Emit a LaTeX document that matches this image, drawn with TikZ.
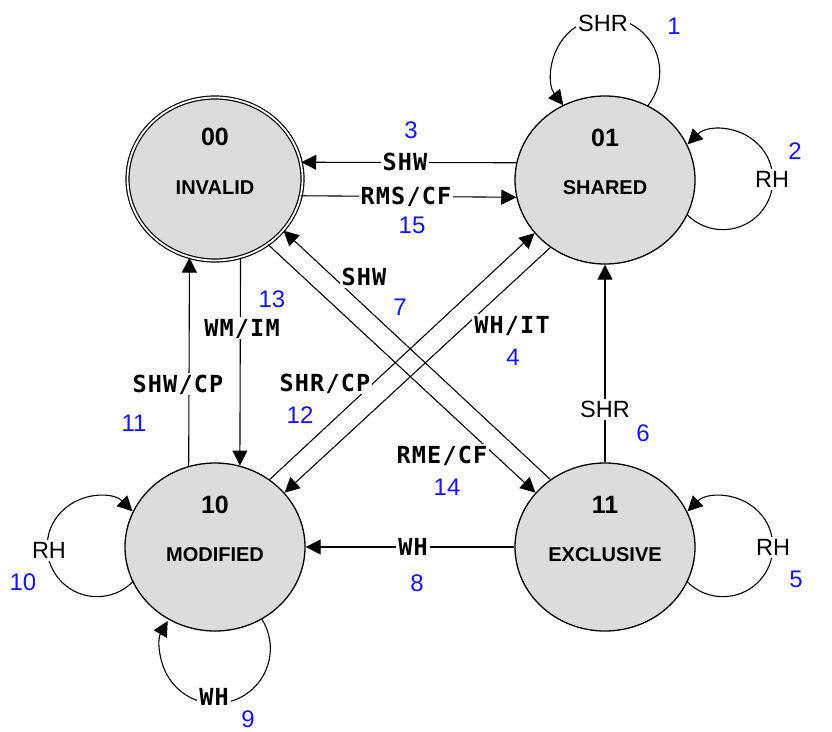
\documentclass[tikz,border=0pt]{standalone}
\usepackage{fontspec}
\setmainfont{Liberation Sans}
\newfontfamily\lblmono{DejaVu Sans Mono}[LetterSpace=5]
\usetikzlibrary{arrows.meta,shapes.geometric}
\definecolor{stategray}{RGB}{220,220,220}
\definecolor{numblue}{RGB}{20,20,255}
\begin{document}
\begin{tikzpicture}[x=1pt,y=1pt,
  state/.style={ellipse, draw, line width=1.3pt, fill=stategray, minimum width=180pt, minimum height=168pt, inner sep=0pt},
  startstate/.style={state, double, double distance=1.8pt, line width=1.2pt, minimum width=175pt, minimum height=163pt},
  code/.style={font=\fontsize{25}{25}\selectfont\bfseries, inner sep=0pt},
  sname/.style={font=\fontsize{20}{20}\selectfont\bfseries, inner sep=0pt},
  lab/.style={font=\lblmono\bfseries\fontsize{23.5}{23.5}\selectfont, fill=white, inner sep=2pt, text height=17pt, text depth=1pt},
  plab/.style={font=\fontsize{23.5}{23.5}\selectfont, fill=white, inner sep=2pt, text height=17pt, text depth=0pt},
  num/.style={font=\fontsize{24}{24}\selectfont, text=numblue, inner sep=0pt},
  edge/.style={line width=1.1pt, -{Triangle[length=15pt,width=15pt]}}
]
\useasboundingbox (0,0) rectangle (832,-731);

\node[startstate] (I) at (215,-179) {};
\node[state] (S) at (605,-180) {};
\node[state] (M) at (215,-547) {};
\node[state] (E) at (605,-547) {};

\node[code] (Ic) at ([yshift=42pt]I.center) {00};
\node[sname] (In) at ([yshift=-9pt]I.center) {INVALID};
\node[code] (Sc) at ([yshift=42pt]S.center) {01};
\node[sname] (Sn) at ([yshift=-8pt]S.center) {SHARED};
\node[code] (Mc) at ([yshift=42pt]M.center) {10};
\node[sname] (Mn) at ([yshift=-8pt]M.center) {MODIFIED};
\node[code] (Ec) at ([yshift=42pt]E.center) {11};
\node[sname] (En) at ([yshift=-8pt]E.center) {EXCLUSIVE};

% straight transitions
\draw[edge] (S.169) -- (I.11);
\draw[edge] (I.-11) -- (S.191);
\draw[edge] (I.-72) -- (M.73);
\draw[edge] (M.108) -- (I.-108.6);
\draw[edge] (E.north) -- (S.south);
\draw[edge] (E.west) -- (M.east);
\draw[edge] (I.-51.4) -- (E.142);
\draw[edge] (E.129) -- (I.-37.5);
\draw[edge] (M.51) -- (S.217.4);
\draw[edge] (S.231) -- (M.38.4);

% self loops
\draw[edge] (S.60) arc[start angle=-38.5, end angle=218.2, radius=54];
\draw[edge] (S.-23.5) arc[start angle=-135, end angle=135, radius=50];
\draw[edge] (E.-23.5) arc[start angle=-135, end angle=135, radius=50];
\draw[edge] (M.203.5) arc[start angle=-45, end angle=-315, radius=50];
\draw[edge] (M.-57.5) arc[start angle=32, end angle=-210, radius=55];

% labels and numbers
\node[plab] (l1) at (603,-23) {SHR};
\node[num] (n1) at (674,-26) {1};
\node[plab] (l2) at (772,-179) {RH};
\node[num] (n2) at (795,-151) {2};
\node[lab] (l3) at (405,-162) {SHW};
\node[num] (n3) at (411,-130) {3};
\node[lab] (l4) at (512,-325) {WH/IT};
\node[num] (n4) at (513,-357) {4};
\node[plab] (l5) at (773,-547) {RH};
\node[num] (n5) at (796,-579) {5};
\node[plab] (l6) at (605,-409) {SHR};
\node[num] (n6) at (643,-433) {6};
\node[lab] (l7) at (364,-277) {SHW};
\node[num] (n7) at (400,-307) {7};
\node[lab] (l8) at (413,-547) {WH};
\node[num] (n8) at (417,-583) {8};
\node[lab] (l9) at (214,-697) {WH};
\node[num] (n9) at (248,-719) {9};
\node[plab] (l10) at (49,-550) {RH};
\node[num] (n10) at (23,-582) {10};
\node[lab] (l11) at (178,-384) {SHW/CP};
\node[num] (n11) at (134,-423) {11};
\node[lab] (l12) at (325,-383) {SHR/CP};
\node[num] (n12) at (300,-415) {12};
\node[lab] (l13) at (242,-328) {WM/IM};
\node[num] (n13) at (272,-299) {13};
\node[lab] (l14) at (442,-455) {RME/CF};
\node[num] (n14) at (447,-487) {14};
\node[lab] (l15) at (406,-196) {RMS/CF};
\node[num] (n15) at (412,-225) {15};
\end{tikzpicture}
\end{document}
